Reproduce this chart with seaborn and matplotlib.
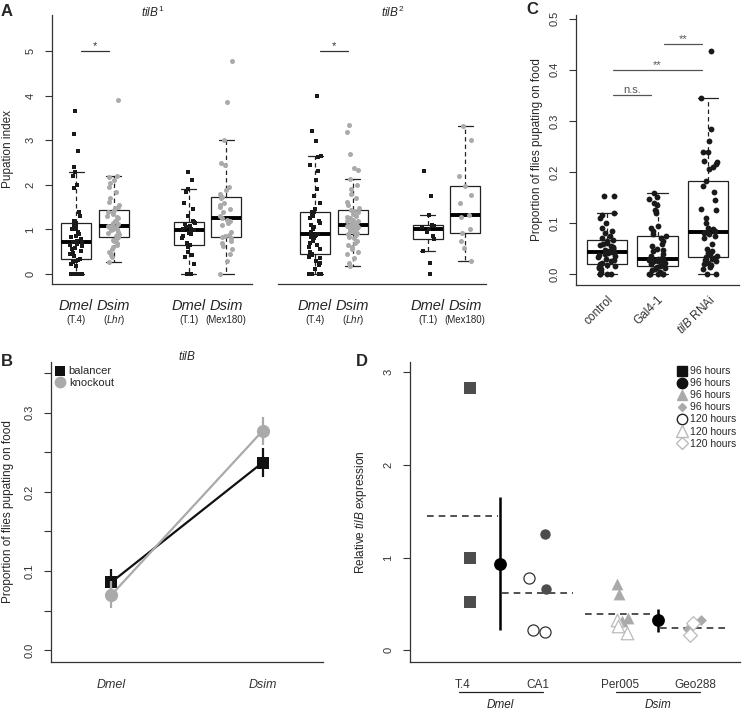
import numpy as np
import pandas as pd
import seaborn as sns
import matplotlib.pyplot as plt
from matplotlib.lines import Line2D
from matplotlib.transforms import blended_transform_factory

sns.set_style("ticks")
plt.rcParams["font.family"] = ["Liberation Sans", "DejaVu Sans"]
plt.rcParams["mathtext.fontset"] = "custom"
plt.rcParams["mathtext.rm"] = "Liberation Sans"
plt.rcParams["mathtext.it"] = "Liberation Sans:italic"
plt.rcParams["axes.edgecolor"] = "#333333"
plt.rcParams["axes.linewidth"] = 0.9
plt.rcParams["xtick.color"] = "#333333"
plt.rcParams["ytick.color"] = "#333333"

np.random.seed(7)  # keeps the strip jitter stable

# ---- A: pupation index (tilB1 / tilB2 crosses)
a_groups = ["Dmel T.4", "Dsim Lhr", "Dmel T.1", "Dsim Mex180"]
a_species = ["Dmel", "Dsim", "Dmel", "Dsim"]
a_strains = ["(T.4)", r"($\it{Lhr}$)", "(T.1)", "(Mex180)"]

a1_t4 = [0, 0, 0, 0, 0, 0, 0.18, 0.22, 0.26, 0.30, 0.32, 0.34, 0.40, 0.44, 0.48,
         0.52, 0.55, 0.58, 0.62, 0.65, 0.68, 0.70, 0.72, 0.75, 0.78, 0.82, 0.85,
         0.90, 0.95, 1.00, 1.02, 1.05, 1.10, 1.15, 1.20, 1.30, 1.38, 1.92, 2.00,
         2.20, 2.28, 2.40, 2.76, 3.15, 3.66]
a1_lhr = [0.26, 0.38, 0.42, 0.45, 0.50, 0.55, 0.60, 0.65, 0.70, 0.74, 0.77, 0.80,
          0.82, 0.85, 0.88, 0.90, 0.93, 0.95, 0.98, 1.00, 1.02, 1.04, 1.05, 1.06,
          1.07, 1.10, 1.12, 1.15, 1.18, 1.20, 1.25, 1.28, 1.30, 1.35, 1.38, 1.40,
          1.43, 1.47, 1.50, 1.55, 1.62, 1.70, 1.85, 1.95, 2.05, 2.12, 2.18, 2.20, 3.90]
a1_t1 = [0, 0, 0.22, 0.38, 0.42, 0.50, 0.60, 0.64, 0.66, 0.70, 0.80, 0.85, 0.90,
         0.93, 0.96, 0.99, 1.00, 1.02, 1.05, 1.08, 1.12, 1.15, 1.16, 1.18, 1.30,
         1.45, 1.60, 1.85, 1.90, 2.10, 2.29]
a1_mex = [0, 0.30, 0.45, 0.55, 0.62, 0.70, 0.75, 0.80, 0.82, 0.85, 0.88, 0.95, 1.10,
          1.15, 1.20, 1.22, 1.25, 1.30, 1.40, 1.45, 1.50, 1.55, 1.60, 1.70, 1.73,
          1.80, 1.88, 1.95, 2.45, 2.50, 3.00, 3.86, 4.77]

a2_t4 = [0, 0, 0, 0, 0, 0.12, 0.20, 0.25, 0.30, 0.35, 0.38, 0.42, 0.45, 0.50, 0.55,
         0.60, 0.65, 0.70, 0.75, 0.80, 0.82, 0.85, 0.87, 0.88, 0.90, 0.92, 0.95,
         1.00, 1.05, 1.10, 1.15, 1.20, 1.25, 1.30, 1.35, 1.38, 1.40, 1.45, 1.60,
         1.75, 1.90, 2.10, 2.30, 2.45, 2.62, 2.64, 2.99, 3.20, 4.00]
a2_lhr = [0.17, 0.25, 0.35, 0.45, 0.50, 0.55, 0.60, 0.65, 0.70, 0.75, 0.80, 0.84,
          0.87, 0.90, 0.92, 0.95, 0.97, 0.99, 1.00, 1.02, 1.03, 1.05, 1.06, 1.07,
          1.08, 1.09, 1.10, 1.12, 1.14, 1.16, 1.18, 1.20, 1.22, 1.25, 1.28, 1.30,
          1.35, 1.38, 1.41, 1.44, 1.48, 1.55, 1.62, 1.70, 1.80, 1.90, 2.00, 2.13,
          2.33, 2.38, 2.70, 3.19, 3.34]
a2_t1 = [0, 0.25, 0.51, 0.79, 0.85, 0.95, 1.02, 1.05, 1.08, 1.11, 1.33, 1.76, 2.30]
a2_mex = [0.30, 0.59, 0.75, 0.93, 1.00, 1.27, 1.33, 1.60, 1.78, 1.98, 2.20, 3.00, 3.31]

# ---- B: proportion pupating on food, mean with error range
b_species = ["Dmel", "Dsim"]
b_balancer = [0.086, 0.237]
b_balancer_lo = [0.068, 0.219]
b_balancer_hi = [0.103, 0.256]
b_knockout = [0.070, 0.277]
b_knockout_lo = [0.053, 0.259]
b_knockout_hi = [0.088, 0.295]

# ---- C: RNAi knockdown
c_labels = ["control", "Gal4-1", r"$\it{tilB}$ RNAi"]
c_control = [0, 0, 0, 0, 0.005, 0.010, 0.012, 0.014, 0.016, 0.017, 0.018, 0.020,
             0.022, 0.025, 0.028, 0.030, 0.033, 0.035, 0.037, 0.039, 0.041, 0.043,
             0.044, 0.046, 0.048, 0.050, 0.052, 0.054, 0.056, 0.058, 0.060, 0.062,
             0.065, 0.067, 0.070, 0.075, 0.080, 0.085, 0.090, 0.100, 0.110, 0.115,
             0.119, 0.153, 0.153]
c_gal4 = [0, 0, 0, 0, 0, 0, 0.005, 0.008, 0.010, 0.012, 0.015, 0.017, 0.019, 0.020,
          0.021, 0.022, 0.024, 0.025, 0.026, 0.027, 0.028, 0.029, 0.030, 0.032,
          0.035, 0.040, 0.045, 0.048, 0.050, 0.055, 0.060, 0.065, 0.070, 0.074,
          0.078, 0.085, 0.090, 0.095, 0.120, 0.125, 0.135, 0.140, 0.148, 0.152, 0.158]
c_rnai = [0, 0, 0.010, 0.015, 0.018, 0.020, 0.022, 0.025, 0.028, 0.030, 0.032, 0.033,
          0.035, 0.040, 0.042, 0.045, 0.050, 0.060, 0.070, 0.075, 0.078, 0.080,
          0.083, 0.085, 0.088, 0.090, 0.100, 0.110, 0.125, 0.128, 0.145, 0.160,
          0.172, 0.182, 0.205, 0.210, 0.215, 0.220, 0.222, 0.240, 0.240, 0.260,
          0.285, 0.345, 0.436]
c_sig = [("control", "Gal4-1", 0.35, "n.s."), ("control", c_labels[2], 0.40, "**"),
         ("Gal4-1", c_labels[2], 0.45, "**")]

# ---- D: relative tilB expression
d_strains = ["T.4", "CA1", "Per005", "Geo288"]
d_species = ["Dmel", "Dmel", "Dsim", "Dsim"]
d_t4_96 = [2.83, 1.00, 0.52]
d_ca1_96 = [1.25, 0.66]
d_ca1_120 = [0.78, 0.20, 0.22]
d_per_96 = [0.71, 0.61, 0.35, 0.32]
d_per_120 = [0.33, 0.26, 0.19]
d_geo_96 = [0.33, 0.23, 0.17]
d_geo_120 = [0.29, 0.16]
d_err_lo = [0.22, 0.20]
d_err_hi = [1.65, 0.45]

W, H = 743, 714


def px_box(l, t, r, b):
    return [l / W, 1 - b / H, (r - l) / W, (b - t) / H]


def box_strip(ax, df, order, styles, jitter=0.17):
    sns.boxplot(data=df, x="group", y="value", order=order, color="white",
                linecolor="#222222", linewidth=0.9, width=0.8, showfliers=False,
                whiskerprops={"linestyle": (0, (3.5, 2.5))},
                medianprops={"linewidth": 2.8, "color": "black"}, ax=ax)
    for sp, st in styles.items():
        sub = df[df["species"] == sp]
        sns.stripplot(data=sub, x="group", y="value", order=order, jitter=jitter,
                      linewidth=0, ax=ax, **st)
    ax.set_xlabel("")
    ax.set_ylabel("")


def sig_bar(ax, x0, x1, y, label, color="#333333"):
    ax.plot([x0 + 0.12, x1 - 0.12], [y, y], color=color, lw=0.9)
    ax.text((x0 + x1) / 2, y, label, ha="center", va="bottom", fontsize=8, color=color)


fig = plt.figure(figsize=(W / 100, H / 100), dpi=100)

# ---------------- Panel A
a_order = [a_groups[0], a_groups[1], "gap", a_groups[2], a_groups[3]]
a_pos = [a_order.index(g) for g in a_groups]
a_styles = {"Dmel": dict(marker="s", color="#1a1a1a", size=2.8),
            "Dsim": dict(marker="o", color="#aaaaaa", size=3.6)}
panels_a = [
    (px_box(52, 15, 252, 284), [a1_t4, a1_lhr, a1_t1, a1_mex], r"$\it{tilB}^{1}$",
     0.505, (-0.64, 4.69), True),
    (px_box(278, 15, 486, 284), [a2_t4, a2_lhr, a2_t1, a2_mex], r"$\it{tilB}^{2}$",
     0.553, (-0.99, 4.56), False),
]
for rect, values, title, tx, xlim, first in panels_a:
    ax = fig.add_axes(rect)
    rows = []
    for g, sp, vals in zip(a_groups, a_species, values):
        rows += [(g, sp, v) for v in vals]
    df = pd.DataFrame(rows, columns=["group", "species", "value"])
    box_strip(ax, df, a_order, a_styles)
    ax.set_xlim(*xlim)
    ax.set_ylim(-0.224, 5.81)
    sns.despine(ax=ax)
    ax.set_xticks(a_pos)
    ax.set_xticklabels([])
    ax.tick_params(axis="x", length=0)
    tr = blended_transform_factory(ax.transData, ax.transAxes)
    for p, sp, strain in zip(a_pos, a_species, a_strains):
        ax.text(p, -0.082, sp, transform=tr, ha="center", va="center",
                style="italic", fontsize=10.5)
        ax.text(p, -0.134, strain, transform=tr, ha="center", va="center", fontsize=7)
    ax.text(tx, 1.011, title, transform=ax.transAxes, ha="center", va="center",
            fontsize=8.5)
    sig_bar(ax, a_pos[0], a_pos[1], 5.0, "*")
    if first:
        ax.set_yticks(range(6))
        ax.set_yticklabels([str(i) for i in range(6)], rotation=90, va="center",
                           fontsize=8)
        ax.tick_params(axis="y", length=5, pad=7)
        ax.set_ylabel("Pupation index", fontsize=8.5)
        ax.yaxis.set_label_coords(-0.19, 0.5)
    else:
        ax.spines["left"].set_visible(False)
        ax.tick_params(axis="y", left=False, labelleft=False)

# ---------------- Panel C
axc = fig.add_axes(px_box(576, 15, 739, 285))
rows = []
for g, vals in zip(c_labels, [c_control, c_gal4, c_rnai]):
    rows += [(g, "all", v) for v in vals]
dfc = pd.DataFrame(rows, columns=["group", "species", "value"])
box_strip(axc, dfc, c_labels, {"all": dict(marker="o", color="#1a1a1a", size=4.2)})
axc.set_xlim(-0.61, 2.61)
axc.set_ylim(-0.021, 0.507)
sns.despine(ax=axc)
c_ticks = np.arange(0, 0.51, 0.1)
axc.set_yticks(c_ticks)
axc.set_yticklabels([f"{t:.1f}" for t in c_ticks], rotation=90, va="center", fontsize=8)
axc.tick_params(axis="y", length=5, pad=7)
axc.set_xticks(range(len(c_labels)))
axc.set_xticklabels(c_labels, rotation=45, ha="right", va="top",
                    rotation_mode="anchor", fontsize=8.5)
axc.tick_params(axis="x", length=0, pad=6)
axc.set_ylabel("Proportion of flies pupating on food", fontsize=8.5)
axc.yaxis.set_label_coords(-0.2, 0.5)
for g0, g1, y, lab in c_sig:
    sig_bar(axc, c_labels.index(g0), c_labels.index(g1), y, lab, color="#555555")

# ---------------- Panel B
axb = fig.add_axes(px_box(51, 362, 323, 662))
dfb = pd.DataFrame({
    "species": b_species * 2,
    "genotype": ["balancer"] * 2 + ["knockout"] * 2,
    "prop": b_balancer + b_knockout,
})
b_colors = {"balancer": "#111111", "knockout": "#aaaaaa"}
b_markers = {"balancer": "s", "knockout": "o"}
for gt, lo, hi in [("balancer", b_balancer_lo, b_balancer_hi),
                   ("knockout", b_knockout_lo, b_knockout_hi)]:
    axb.vlines(range(len(b_species)), lo, hi, color=b_colors[gt], lw=1.6)
    sns.lineplot(data=dfb[dfb["genotype"] == gt], x="species", y="prop",
                 color=b_colors[gt], marker=b_markers[gt],
                 markersize=8.5 if gt == "balancer" else 9.5,
                 markeredgewidth=0, lw=1.6, ax=axb)
axb.set_xlim(-0.40, 1.40)
axb.set_ylim(-0.0148, 0.364)
sns.despine(ax=axb)
axb.set_yticks(np.arange(0, 0.36, 0.05))
axb.set_yticklabels(["0.0", "", "0.1", "", "0.2", "", "0.3", ""], rotation=90,
                    va="center", fontsize=8)
axb.tick_params(axis="y", length=5, pad=7)
axb.set_xticks(range(len(b_species)))
axb.set_xticklabels(b_species, style="italic", fontsize=9)
axb.tick_params(axis="x", length=0, pad=12)
axb.set_xlabel("")
axb.set_ylabel("Proportion of flies pupating on food", fontsize=8.5)
axb.yaxis.set_label_coords(-0.135, 0.5)
axb.text(0.5, 1.017, r"$\it{tilB}$", transform=axb.transAxes, ha="center",
         va="center", fontsize=8.5)
b_handles = [Line2D([], [], ls="none", marker=b_markers[g], color=b_colors[g],
                    markersize=7.5 if g == "balancer" else 8.5, markeredgewidth=0)
             for g in ["balancer", "knockout"]]
axb.legend(b_handles, ["balancer", "knockout"], loc="upper left", frameon=False,
           fontsize=8, handlelength=0.8, handletextpad=0.4, labelspacing=0.1,
           borderaxespad=0.2, borderpad=0.2)

# ---------------- Panel D
axd = fig.add_axes(px_box(410, 362, 740, 662))
d_pos = {"T.4": 1.0, "CA1": 2.0, "Per005": 3.1, "Geo288": 4.1}
d_series = [
    ("T.4", d_t4_96, dict(marker="s", color="#4d4d4d", size=8)),
    ("CA1", d_ca1_96, dict(marker="o", color="#4d4d4d", size=7.5)),
    ("CA1", d_ca1_120, dict(marker="o", color="white", edgecolor="#333333",
                            linewidth=0.9, size=8)),
    ("Per005", d_per_96, dict(marker="^", color="#aaaaaa", size=8.5)),
    ("Per005", d_per_120, dict(marker="^", color="white", edgecolor="#bbbbbb",
                               linewidth=0.9, size=9)),
    ("Geo288", d_geo_96, dict(marker="D", color="#aaaaaa", size=5.5)),
    ("Geo288", d_geo_120, dict(marker="D", color="white", edgecolor="#bbbbbb",
                               linewidth=0.9, size=7)),
]
strain_vals = {s: [] for s in d_strains}
for strain, vals, _ in d_series:
    strain_vals[strain] += vals
for s in d_strains:
    axd.hlines(np.mean(strain_vals[s]), d_pos[s] - 0.47, d_pos[s] + 0.47,
               color="#333333", lw=1.2, linestyles=(0, (4, 3)), zorder=1)
for strain, vals, st in d_series:
    sns.stripplot(x=[d_pos[strain]] * len(vals), y=vals, native_scale=True,
                  orient="x", jitter=0.12, ax=axd, zorder=3, **st)
sp_names = ["Dmel", "Dsim"]
sp_strains = [[s for s, sp in zip(d_strains, d_species) if sp == n] for n in sp_names]
sp_x = [(d_pos[ss[0]] + d_pos[ss[-1]]) / 2 for ss in sp_strains]
sp_mean = [np.mean(sum((strain_vals[s] for s in ss), [])) for ss in sp_strains]
axd.vlines(sp_x, d_err_lo, d_err_hi, color="black", lw=1.8, zorder=4)
sns.scatterplot(x=sp_x, y=sp_mean, color="black", s=85, linewidth=0, zorder=5, ax=axd)
axd.set_xlim(0.30, 4.70)
axd.set_ylim(-0.126, 3.11)
sns.despine(ax=axd)
axd.set_yticks(range(4))
axd.set_yticklabels([str(i) for i in range(4)], rotation=90, va="center", fontsize=8)
axd.tick_params(axis="y", length=5, pad=7)
axd.set_xticks([d_pos[s] for s in d_strains])
axd.set_xticklabels(d_strains, fontsize=8.5)
axd.tick_params(axis="x", length=0, pad=12)
axd.set_ylabel(r"Relative $\it{tilB}$ expression", fontsize=8.5)
axd.yaxis.set_label_coords(-0.125, 0.5)
trd = blended_transform_factory(axd.transData, axd.transAxes)
for name, ss in zip(sp_names, sp_strains):
    x0, x1 = d_pos[ss[0]] - 0.05, d_pos[ss[-1]] + 0.07
    axd.plot([x0, x1], [-0.1, -0.1], color="#222222", lw=0.9,
             transform=trd, clip_on=False)
    axd.text((x0 + x1) / 2, -0.142, name, transform=trd, ha="center", va="center",
             style="italic", fontsize=8.5)
d_handles = [
    Line2D([], [], ls="none", marker="s", color="#111111", markersize=7),
    Line2D([], [], ls="none", marker="o", color="#111111", markersize=7.5),
    Line2D([], [], ls="none", marker="^", color="#aaaaaa", markersize=7.5),
    Line2D([], [], ls="none", marker="D", color="#aaaaaa", markersize=4.5),
    Line2D([], [], ls="none", marker="o", markerfacecolor="none",
           markeredgecolor="#222222", markersize=7.5),
    Line2D([], [], ls="none", marker="^", markerfacecolor="none",
           markeredgecolor="#bbbbbb", markersize=8),
    Line2D([], [], ls="none", marker="D", markerfacecolor="none",
           markeredgecolor="#bbbbbb", markersize=6),
]
axd.legend(d_handles, ["96 hours"] * 4 + ["120 hours"] * 3, loc="upper right",
           frameon=False, fontsize=7.5, handlelength=0.9, handletextpad=0.3,
           labelspacing=0.2, borderaxespad=0.2, borderpad=0.2)

# panel letters
for lab, x, y in [("A", 7, 12), ("B", 7, 362), ("C", 532, 10), ("D", 362, 362)]:
    fig.text(x / W, 1 - y / H, lab, ha="center", va="center", fontsize=12,
             fontweight="bold")

fig.savefig("out.png", dpi=100)
